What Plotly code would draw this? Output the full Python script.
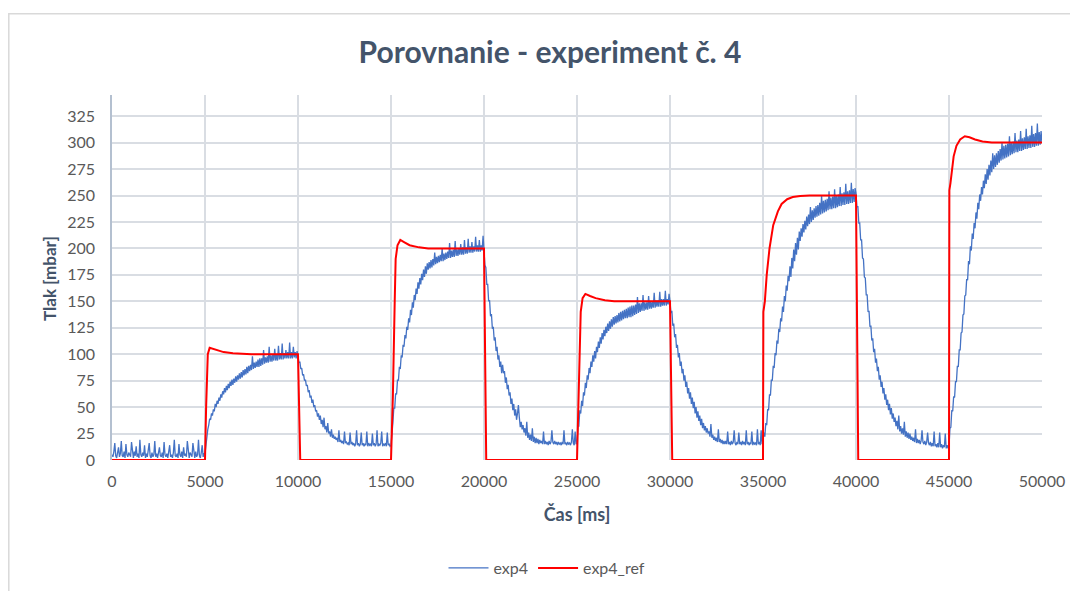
import plotly.graph_objects as go

# ---------------- data ----------------
sample_period_ms = 50
exp4 = [
    5, 3, 8, 16, 4, 2, 7, 12, 3, 6, 18, 4, 3, 8, 2, 15, 5, 3, 7, 4,                       # 0 s
    3, 17, 5, 2, 8, 4, 13, 3, 6, 2, 19, 5, 3, 7, 4, 14, 2, 6, 3, 8,                       # 1 s
    16, 4, 2, 7, 3, 5, 18, 3, 6, 2, 8, 12, 4, 3, 7, 2, 17, 5, 3, 6,                       # 2 s
    2, 8, 14, 3, 5, 2, 7, 19, 4, 3, 6, 2, 15, 5, 3, 8, 2, 12, 4, 6,                       # 3 s
    3, 18, 5, 2, 7, 4, 3, 16, 6, 2, 8, 3, 5, 19, 4, 2, 7, 14, 3, 6,                       # 4 s
    6, 14, 24, 29, 33, 39, 38, 44, 42, 48, 46, 53, 50, 56, 53, 59, 56, 62, 59, 65,        # 5 s
    62, 68, 64, 70, 66, 72, 68, 74, 70, 76, 71, 77, 73, 79, 74, 80, 76, 82, 77, 83,       # 6 s
    78, 85, 80, 86, 81, 88, 82, 89, 84, 90, 85, 98, 86, 92, 87, 93, 88, 95, 88, 96,       # 7 s
    89, 96, 90, 104, 91, 97, 92, 98, 92, 107, 93, 99, 93, 100, 94, 105, 94, 100, 94, 108,  # 8 s
    95, 101, 95, 110, 95, 101, 96, 104, 96, 102, 96, 111, 96, 102, 96, 107, 97, 102, 96, 103,  # 9 s
    98, 92, 93, 86, 87, 80, 81, 75, 76, 70, 71, 64, 66, 59, 61, 54, 57, 50, 52, 46,       # 10 s
    47, 41, 44, 38, 42, 34, 38, 31, 40, 29, 32, 26, 35, 25, 27, 22, 29, 21, 24, 20,       # 11 s
    22, 19, 21, 17, 28, 17, 19, 16, 18, 15, 27, 16, 17, 15, 16, 14, 26, 15, 17, 14,       # 12 s
    16, 13, 15, 28, 14, 16, 13, 15, 26, 14, 16, 13, 15, 14, 27, 13, 16, 14, 15, 13,       # 13 s
    25, 14, 16, 13, 15, 28, 13, 15, 14, 16, 27, 13, 15, 14, 16, 13, 26, 14, 15, 13,       # 14 s
    14, 30, 35, 49, 49, 63, 62, 76, 75, 88, 86, 99, 97, 109, 107, 118, 115, 126, 123, 134,  # 15 s
    130, 142, 137, 149, 144, 156, 151, 162, 157, 168, 162, 172, 166, 176, 170, 180, 173, 183, 176, 186,  # 16 s
    180, 187, 181, 189, 182, 190, 184, 196, 185, 192, 186, 193, 187, 194, 188, 200, 188, 195, 189, 196,  # 17 s
    190, 197, 191, 205, 191, 198, 192, 199, 192, 207, 193, 199, 193, 200, 194, 204, 194, 201, 194, 208,  # 18 s
    195, 201, 195, 209, 196, 202, 196, 206, 196, 202, 197, 211, 197, 203, 197, 208, 197, 203, 198, 212,  # 19 s
    200, 184, 182, 166, 166, 150, 151, 136, 138, 124, 126, 113, 116, 103, 107, 95, 99, 88, 93, 82,      # 20 s
    90, 82, 84, 73, 78, 67, 71, 61, 64, 53, 58, 47, 53, 42, 48, 38, 44, 52, 40, 31,       # 21 s
    36, 29, 33, 26, 30, 23, 36, 21, 26, 19, 24, 18, 30, 17, 22, 16, 21, 16, 20, 15,       # 22 s
    19, 16, 18, 15, 27, 15, 18, 15, 17, 14, 18, 15, 17, 28, 17, 15, 18, 15, 17, 14,       # 23 s
    17, 15, 16, 14, 17, 15, 28, 15, 16, 14, 17, 15, 16, 14, 17, 29, 16, 14, 27, 15,       # 24 s
    16, 32, 32, 47, 44, 56, 51, 64, 61, 73, 68, 80, 76, 87, 82, 93, 88, 99, 93, 103,      # 25 s
    96, 107, 102, 112, 106, 116, 110, 120, 114, 123, 117, 126, 120, 129, 122, 131, 124, 133, 126, 135,  # 26 s
    128, 136, 129, 137, 130, 139, 131, 140, 132, 141, 133, 142, 134, 143, 134, 144, 135, 145, 135, 146,  # 27 s
    136, 146, 137, 147, 138, 154, 139, 148, 140, 148, 141, 156, 141, 149, 142, 149, 142, 155, 143, 150,  # 28 s
    143, 150, 144, 158, 144, 151, 145, 151, 145, 159, 145, 152, 146, 152, 146, 160, 146, 152, 147, 157,  # 29 s
    150, 139, 141, 127, 129, 116, 119, 106, 109, 97, 101, 89, 93, 82, 86, 75, 80, 69, 74, 63,  # 30 s
    68, 58, 64, 53, 59, 49, 55, 44, 50, 40, 46, 37, 42, 33, 39, 30, 35, 28, 32, 26,      # 31 s
    30, 25, 27, 22, 34, 21, 24, 19, 22, 18, 21, 17, 29, 17, 20, 16, 19, 15, 18, 15,       # 32 s
    18, 15, 27, 15, 17, 14, 18, 15, 17, 28, 16, 14, 17, 15, 26, 15, 17, 14, 18, 15,       # 33 s
    17, 14, 28, 15, 17, 14, 16, 15, 27, 14, 17, 15, 16, 14, 29, 15, 17, 14, 28, 15,       # 34 s
    18, 26, 22, 35, 33, 48, 47, 62, 61, 76, 75, 89, 87, 101, 99, 113, 110, 124, 121, 134,  # 35 s
    131, 145, 140, 155, 150, 165, 160, 174, 169, 183, 173, 191, 181, 199, 188, 205, 194, 210, 199, 216,  # 36 s
    207, 219, 211, 223, 215, 226, 218, 230, 221, 232, 223, 239, 225, 236, 227, 238, 229, 240, 230, 241,  # 37 s
    231, 243, 232, 250, 233, 245, 234, 246, 235, 247, 236, 254, 237, 248, 237, 249, 238, 256, 238, 250,  # 38 s
    239, 251, 240, 258, 240, 252, 241, 253, 241, 261, 242, 254, 242, 255, 243, 262, 243, 256, 244, 257,  # 39 s
    252, 239, 240, 224, 224, 208, 208, 191, 190, 173, 172, 156, 156, 140, 141, 126, 127, 113, 115, 102,  # 40 s
    105, 92, 96, 84, 88, 76, 80, 69, 74, 63, 68, 57, 62, 52, 57, 47, 53, 43, 49, 39,      # 41 s
    44, 36, 40, 32, 37, 29, 42, 27, 32, 25, 30, 24, 36, 22, 27, 21, 26, 20, 25, 19,       # 42 s
    22, 18, 21, 17, 29, 16, 20, 16, 19, 15, 18, 28, 17, 15, 18, 14, 17, 26, 16, 14,       # 43 s
    17, 13, 16, 13, 27, 13, 15, 12, 16, 12, 26, 12, 15, 11, 14, 12, 25, 11, 14, 11,       # 44 s
    12, 30, 31, 47, 46, 60, 59, 74, 74, 89, 88, 104, 104, 120, 121, 137, 138, 155, 156, 171,  # 45 s
    170, 188, 185, 202, 198, 214, 209, 224, 219, 234, 228, 243, 237, 251, 245, 258, 251, 264, 257, 270,  # 46 s
    261, 275, 265, 279, 269, 283, 272, 290, 275, 288, 277, 290, 279, 292, 281, 294, 283, 300, 284, 297,  # 47 s
    285, 298, 286, 299, 287, 306, 288, 300, 289, 301, 290, 309, 291, 302, 291, 303, 292, 311, 292, 304,  # 48 s
    293, 305, 294, 313, 294, 306, 295, 307, 295, 316, 296, 308, 296, 309, 297, 318, 297, 310, 298, 311,  # 49 s
    300,                                                                                  # 50 s
]
exp4_time = [i * sample_period_ms for i in range(len(exp4))]

ref_time = [0, 5000, 5060, 5150, 5250, 5500, 6000, 6500, 7500, 10000, 10120,
            15000, 15100, 15200, 15250, 15350, 15500, 15700, 16000, 16500, 17000, 20000, 20120,
            25000, 25100, 25200, 25300, 25450, 25700, 26000, 26500, 27000, 30000, 30120,
            35000, 35020, 35100, 35200, 35350, 35550, 35800, 36000, 36300, 36600, 37000, 37500, 40000, 40120,
            45000, 45020, 45080, 45150, 45250, 45400, 45600, 45850, 46100, 46400, 46800, 47300, 50000]
ref_vals = [0, 0, 50, 100, 106, 104.5, 102, 101, 100, 100, 0,
            0, 60, 150, 190, 203, 208, 206, 203, 201, 200, 200, 0,
            0, 80, 140, 153, 157, 155, 153, 151, 150, 150, 0,
            0, 140, 150, 175, 200, 222, 235, 242, 246.5, 248.5, 249.5, 250, 250, 0,
            0, 255, 262, 275, 287, 297, 303, 306, 305, 303, 301, 300, 300]

title_text = "Porovnanie - experiment č. 4"
x_title = "Čas [ms]"
y_title = "Tlak [mbar]"
x_ticks = [0, 5000, 10000, 15000, 20000, 25000, 30000, 35000, 40000, 45000, 50000]
y_ticks = [0, 25, 50, 75, 100, 125, 150, 175, 200, 225, 250, 275, 300, 325]

# ---------------- figure ----------------
OFF = 8                      # page body margin
W, H = 1078 - OFF, 591 - OFF
L, R, T, B = 112 - OFF, 36, 95 - OFF, 131
pw, ph = W - L - R, H - T - B


def px(xr):   # reference pixel x -> paper x
    return (xr - OFF - L) / pw


def py(yr):   # reference pixel y -> paper y
    return (H - B - (yr - OFF)) / ph


FONT = "Lato"
TXT = "#44546A"
TICK = "#595959"
GRID = "#D9DDE3"

fig = go.Figure()
fig.add_trace(go.Scatter(x=exp4_time, y=exp4, mode="lines", name="exp4",
                         line=dict(color="#4472C4", width=1.3)))
fig.add_trace(go.Scatter(x=ref_time, y=ref_vals, mode="lines", name="exp4_ref",
                         line=dict(color="#FF0000", width=2)))

fig.add_shape(type="rect", xref="paper", yref="paper",
              x0=px(8.8), x1=px(1100), y0=py(620), y1=py(13.8),
              line=dict(color="#D9D9D9", width=1.5), fillcolor="rgba(0,0,0,0)", layer="below")

fig.add_annotation(text=y_title, xref="paper", yref="paper", x=px(49), y=py(278),
                   textangle=-90, showarrow=False, xanchor="center", yanchor="middle",
                   font=dict(family=FONT, size=17, color=TXT, weight="bold"))

fig.update_layout(
    width=W, height=H,
    margin=dict(l=L, r=R, t=T, b=B, autoexpand=False),
    paper_bgcolor="white", plot_bgcolor="white",
    font=dict(family=FONT, color=TICK, size=16),
    title=dict(text=title_text, x=(550 - OFF) / W, xanchor="center", y=1 - (52 - OFF) / H, yanchor="middle",
               font=dict(family=FONT, size=30, color=TXT, weight="bold")),
    showlegend=True,
    legend=dict(orientation="h", x=px(547), xanchor="center",
                y=py(568), yanchor="middle",
                font=dict(family=FONT, size=16, color=TICK), bgcolor="rgba(0,0,0,0)",
                itemwidth=40, tracegroupgap=0),
    xaxis=dict(range=[0, 50000], tickvals=x_ticks, ticktext=[str(v) for v in x_ticks],
               showgrid=True, gridcolor=GRID, gridwidth=1.5, zeroline=False, showline=False,
               ticks="", ticklabelstandoff=10, tickfont=dict(size=16, color=TICK),
               title=dict(text=x_title, standoff=19, font=dict(size=18, color=TXT, weight="bold"))),
    yaxis=dict(range=[0, 345], tickvals=y_ticks, ticktext=[str(v) for v in y_ticks],
               showgrid=True, gridcolor=GRID, gridwidth=1.5, zeroline=False,
               showline=True, linecolor="#B4C0D0", linewidth=1.5,
               ticks="outside", ticklen=12, tickcolor="rgba(0,0,0,0)",
               tickfont=dict(size=16, color=TICK)),
)

fig.write_html("out.html")
